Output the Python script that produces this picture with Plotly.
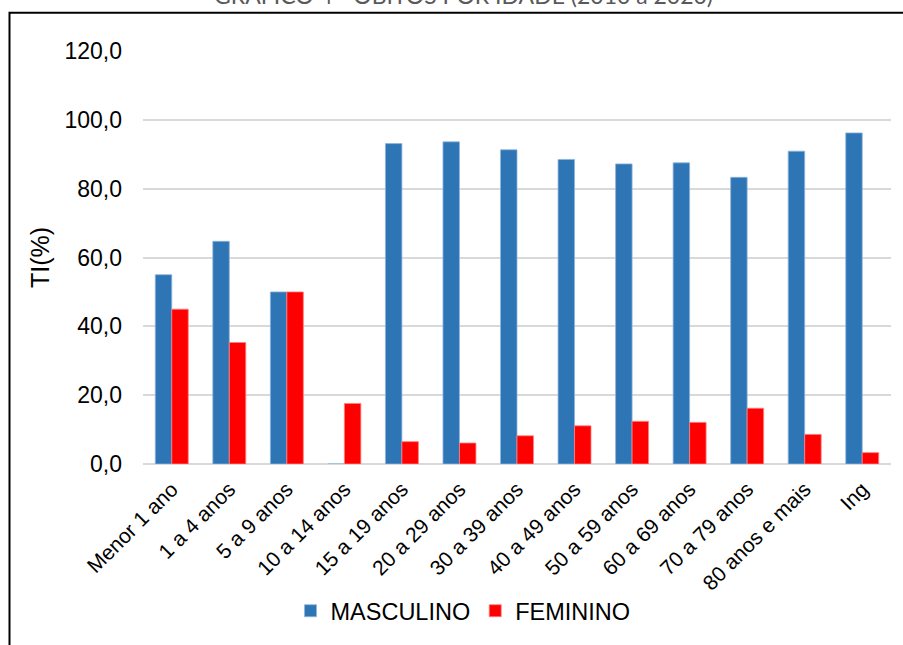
import plotly.graph_objects as go

categorias = ["Menor 1 ano", "1 a 4 anos", "5 a 9 anos", "10 a 14 anos", "15 a 19 anos",
              "20 a 29 anos", "30 a 39 anos", "40 a 49 anos", "50 a 59 anos", "60 a 69 anos",
              "70 a 79 anos", "80 anos e mais", "Ing"]
masculino = [55.0, 64.7, 50.0, 0.0, 93.1, 93.6, 91.3, 88.5, 87.2, 87.5, 83.3, 90.9, 96.2]
feminino = [45.0, 35.3, 50.0, 17.6, 6.5, 6.1, 8.2, 11.1, 12.4, 12.1, 16.2, 8.6, 3.3]
y_ticks = [0, 20, 40, 60, 80, 100, 120]
titulo = "GRÁFICO 4 - ÓBITOS POR IDADE (2010 a 2020)"

W, H = 903, 645
L, R, T, B = 143, 12, 51, 178
pw, ph = W - L - R, H - T - B

def px_x(x):
    return (x - L) / pw

def px_y(y):
    return (H - B - y) / ph

fig = go.Figure()
fig.add_trace(go.Bar(x=categorias, y=masculino, name="MASCULINO",
                     marker=dict(color="#2E75B6", line=dict(color="#8FB4DA", width=0.8))))
fig.add_trace(go.Bar(x=categorias, y=feminino, name="FEMININO",
                     marker=dict(color="#FF0000", line=dict(color="#FF8080", width=0.8))))

fig.update_layout(
    width=W, height=H,
    margin=dict(l=L, r=R, t=T, b=B, pad=0),
    paper_bgcolor="white", plot_bgcolor="white",
    barmode="group", bargap=0.427, bargroupgap=0,
    separators=",.",
    font=dict(family="Liberation Sans, Arial, sans-serif", color="#000000"),
    showlegend=True,
    legend=dict(orientation="h", x=px_x(463), xanchor="center", y=px_y(615), yanchor="middle",
                font=dict(size=23.5, color="#000000"), itemwidth=30, traceorder="normal"),
    xaxis=dict(tickangle=-45, tickfont=dict(size=21, color="#000000"), showgrid=False,
               showline=False, zeroline=False, ticks="", ticklabelstandoff=8),
    yaxis=dict(range=[0, 120], tickvals=y_ticks, tickformat=".1f",
               tickfont=dict(size=23, color="#000000"),
               showgrid=True, gridcolor="#D9D9D9", gridwidth=1.5,
               zeroline=True, zerolinecolor="#D9D9D9", zerolinewidth=1.5,
               showline=False, ticks="", ticklabelstandoff=20,
               title=dict(text="TI(%)", font=dict(size=25, color="#000000"), standoff=7)),
)

fig.add_annotation(text=titulo, xref="paper", yref="paper", x=px_x(463), y=px_y(11),
                   xanchor="center", yanchor="bottom", showarrow=False,
                   font=dict(family="Lato, Open Sans, sans-serif", size=23, color="#595959"))

fig.add_shape(type="rect", xref="paper", yref="paper",
              x0=px_x(9.5), x1=px_x(920), y0=px_y(12.5), y1=px_y(680),
              line=dict(color="#000000", width=2), fillcolor="rgba(0,0,0,0)", layer="above")

fig.write_html("out.html")
